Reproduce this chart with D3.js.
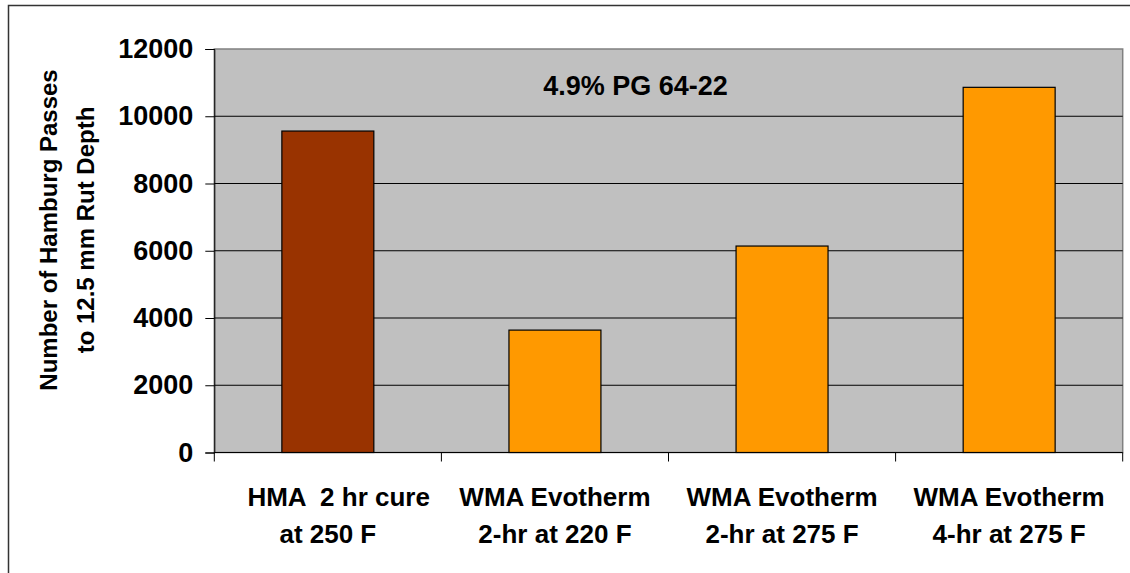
<!DOCTYPE html>
<html>
<head>
<meta charset="utf-8">
<script src="https://cdn.jsdelivr.net/npm/d3@7/dist/d3.min.js"></script>
<style>
  html, body { margin: 0; padding: 0; background: #fff; }
  svg { display: block; }
  text { font-family: "Liberation Sans", Arial, sans-serif; font-weight: bold; fill: #000; }
</style>
</head>
<body>
<svg id="chart" width="1130" height="573"></svg>
<script>
// ---- data ----
const categoriesLine1 = ["   HMA  2 hr cure", "WMA Evotherm", "WMA Evotherm", "WMA Evotherm"];
const categoriesLine2 = ["at 250 F", "2-hr at 220 F", "2-hr at 275 F", "4-hr at 275 F"];
const categoryKeys = ["HMA", "WMA220", "WMA275-2", "WMA275-4"];
const passes = [9560, 3640, 6140, 10860];
const barColors = ["#993300", "#FF9900", "#FF9900", "#FF9900"];
const yTicks = [0, 2000, 4000, 6000, 8000, 10000, 12000];
const chartTitle = "4.9% PG 64-22";
const yLabelLines = ["Number of Hamburg Passes", "to 12.5 mm Rut Depth"];

// ---- layout ----
const svg = d3.select("#chart");
const plot = { left: 214.3, right: 1122.7, top: 49, bottom: 452.5 };

// outer frame
svg.append("rect")
  .attr("x", 8.5).attr("y", 5.5)
  .attr("width", 1200).attr("height", 700)
  .attr("fill", "none").attr("stroke", "#333").attr("stroke-width", 1.5);

const x = d3.scaleBand()
  .domain(categoryKeys)
  .range([plot.left, plot.right])
  .paddingInner(0.595)
  .paddingOuter(0.2975);

const xCat = d3.scaleBand()
  .domain(categoryKeys)
  .range([plot.left, plot.right])
  .padding(0);

const y = d3.scaleLinear().domain([0, 12000]).range([plot.bottom, plot.top]);

// plot area
svg.append("rect")
  .attr("x", plot.left).attr("y", plot.top)
  .attr("width", plot.right - plot.left).attr("height", plot.bottom - plot.top)
  .attr("fill", "#C0C0C0").attr("stroke", "#808080").attr("stroke-width", 1.5);

// gridlines
svg.append("g").selectAll("line")
  .data(yTicks.filter(d => d > 0 && d < 12000))
  .join("line")
  .attr("x1", plot.left).attr("x2", plot.right)
  .attr("y1", d => y(d)).attr("y2", d => y(d))
  .attr("stroke", "#000").attr("stroke-width", 1);

// bars
svg.append("g").selectAll("rect")
  .data(passes)
  .join("rect")
  .attr("x", (d, i) => x(categoryKeys[i]))
  .attr("y", d => y(d))
  .attr("width", x.bandwidth())
  .attr("height", d => y(0) - y(d))
  .attr("fill", (d, i) => barColors[i])
  .attr("stroke", "#000").attr("stroke-width", 1.2);

// y axis
const yAxis = svg.append("g")
  .attr("transform", `translate(${plot.left},0)`)
  .call(d3.axisLeft(y).tickValues(yTicks).tickSize(9).tickPadding(12).tickFormat(d3.format("d")));
yAxis.select(".domain").attr("stroke", "#000");
yAxis.selectAll(".tick line").attr("stroke", "#000");
yAxis.selectAll("text").style("font-size", "27px").attr("fill", "#000");

// x axis with ticks at category boundaries
const xAxisG = svg.append("g").attr("transform", `translate(0,${plot.bottom})`);
xAxisG.append("line")
  .attr("x1", plot.left).attr("x2", plot.right)
  .attr("y1", 0).attr("y2", 0)
  .attr("stroke", "#000").attr("stroke-width", 1);
const boundaries = categoryKeys.map(k => xCat(k)).concat([xCat(categoryKeys[categoryKeys.length - 1]) + xCat.bandwidth()]);
xAxisG.selectAll("line.tk")
  .data(boundaries)
  .join("line").attr("class", "tk")
  .attr("x1", d => d).attr("x2", d => d)
  .attr("y1", 0).attr("y2", 9)
  .attr("stroke", "#000").attr("stroke-width", 1);

const lbl = xAxisG.selectAll("text.cat")
  .data(categoryKeys)
  .join("text").attr("class", "cat")
  .attr("text-anchor", "middle")
  .style("font-size", "26px")
  .style("white-space", "pre")
  .attr("xml:space", "preserve");
lbl.append("tspan")
  .attr("x", d => xCat(d) + xCat.bandwidth() / 2)
  .attr("y", 53)
  .text((d, i) => categoriesLine1[i]);
lbl.append("tspan")
  .attr("x", d => xCat(d) + xCat.bandwidth() / 2)
  .attr("y", 90)
  .text((d, i) => categoriesLine2[i]);

// title
svg.append("text")
  .attr("x", 635.5).attr("y", 95)
  .attr("text-anchor", "middle")
  .style("font-size", "27px")
  .text(chartTitle);

// y label
const yl = svg.append("text")
  .attr("transform", "translate(0,230) rotate(-90)")
  .attr("text-anchor", "middle")
  .style("font-size", "24px");
yl.selectAll("tspan")
  .data(yLabelLines)
  .join("tspan")
  .attr("x", 0)
  .attr("y", (d, i) => 57 + i * 37)
  .text(d => d);
</script>
</body>
</html>
